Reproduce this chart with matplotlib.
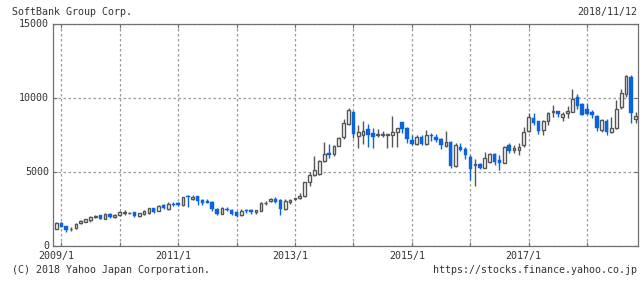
import matplotlib
matplotlib.use("Agg")
import matplotlib.pyplot as plt
import matplotlib.transforms as mtransforms
import pandas as pd

# ---- data (monthly candles, 2008/12 .. 2018/11) ----
months = pd.period_range("2008-12", "2018-11", freq="M")

opens = [
    1190, 1575, 1350, 1160, 1215, 1553, 1665, 1777, 2000, 2093, 1868, 2183,
    1980, 2116, 2250, 2230, 2318, 2048, 2160, 2228, 2566, 2408, 2790, 2498,
    2880, 2904, 2768, 3422, 3220, 3377, 3106, 3040, 2994, 2520, 2206, 2520,
    2453, 2318, 2093, 2453, 2453, 2340, 2408, 2900, 3040, 3220, 3129, 2543,
    2972, 3180, 3242, 3377, 4323, 4818, 4863, 5764, 6305, 6215, 6800, 7408,
    8241, 9074, 7431, 7498, 7926, 7656, 7498, 7520, 7520, 7498, 7701, 8399,
    7993, 7183, 6935, 7386, 6935, 7543, 7408, 7250, 6800, 7048, 5449, 6710,
    6597, 6012, 5470, 5561, 5314, 5674, 6237, 5832, 5652, 6845, 6480, 6530,
    6845, 7814, 8647, 8467, 7881, 8444, 9052, 9142, 8760, 8985, 9075, 10088,
    9638, 9277, 9097, 8805, 7858, 8467, 7746, 7971, 9390, 10269, 11417, 8625,
]
closes = [
    1600, 1327, 1102, 1180, 1507, 1733, 1823, 1958, 2030, 1868, 2183, 2003,
    2138, 2296, 2296, 2250, 2070, 2228, 2363, 2566, 2318, 2723, 2566, 2880,
    2768, 2768, 3309, 3332, 3354, 3084, 2949, 2949, 2498, 2206, 2588, 2430,
    2183, 2070, 2386, 2363, 2340, 2430, 2926, 2950, 3174, 3016, 2498, 3040,
    3107, 3240, 3400, 4323, 4818, 5156, 5764, 6215, 6147, 6777, 7318, 8309,
    9187, 7566, 7701, 7769, 7543, 7363, 7566, 7566, 7540, 7701, 7971, 7948,
    7228, 6935, 7363, 6935, 7498, 7431, 7205, 6867, 7048, 5426, 6822, 6507,
    6147, 5246, 5560, 5291, 5944, 6214, 5719, 5652, 6732, 6440, 6640, 6710,
    7744, 8715, 8354, 7813, 8467, 9007, 9142, 8962, 8940, 9142, 9976, 9480,
    8872, 8940, 8872, 7971, 8512, 7746, 7971, 9255, 10336, 11507, 9030, 8805,
]
highs = [
    1665, 1620, 1395, 1282, 1553, 1800, 1868, 2048, 2140, 2140, 2230, 2228,
    2180, 2386, 2453, 2340, 2340, 2273, 2453, 2611, 2611, 2768, 2836, 2994,
    2994, 2994, 3354, 3466, 3444, 3422, 3174, 3174, 3084, 2566, 2633, 2633,
    2498, 2363, 2498, 2498, 2498, 2476, 2971, 3084, 3242, 3309, 3219, 3197,
    3197, 3287, 3580, 4368, 4998, 6102, 5809, 7048, 6890, 6845, 7386, 8602,
    9322, 9142, 8196, 8466, 8241, 7971, 7926, 7791, 7560, 8782, 8016, 8399,
    8038, 7543, 7498, 7498, 7858, 7678, 7588, 7295, 7791, 7093, 7003, 6980,
    6687, 6169, 5877, 5600, 6372, 6327, 6327, 6192, 6777, 7003, 6822, 7003,
    8082, 9030, 8985, 8467, 8512, 9052, 9525, 9142, 9075, 9480, 10629, 10291,
    9705, 9705, 9210, 8872, 8580, 8580, 8715, 9886, 10606, 11597, 11552, 9097,
]
lows = [
    1147, 1282, 990, 1057, 1170, 1507, 1620, 1643, 1910, 1820, 1823, 1935,
    1935, 2070, 2138, 2160, 2003, 1958, 2115, 2206, 2273, 2363, 2520, 2453,
    2723, 2723, 2723, 2678, 3129, 2814, 2814, 2904, 2408, 2093, 2160, 2363,
    2115, 2003, 2048, 2228, 2160, 2206, 2363, 2814, 2994, 2949, 2135, 2454,
    2837, 3107, 3197, 3332, 4098, 4728, 4818, 5719, 5944, 6125, 6755, 7228,
    8196, 7296, 6620, 6890, 6733, 6665, 7408, 7408, 6665, 6733, 6732, 7678,
    7003, 6845, 6867, 6867, 6867, 7138, 7048, 6597, 6732, 5313, 5381, 6462,
    5921, 4480, 4075, 5250, 5291, 5606, 5494, 5156, 5606, 6282, 6282, 6150,
    6688, 7746, 8197, 7589, 7521, 8174, 8760, 8760, 8490, 8647, 9075, 9300,
    8850, 8850, 8647, 7814, 7724, 7544, 7679, 7926, 9255, 10111, 8354, 8309,
]

y_ticks = [0, 5000, 10000, 15000]
label_years = [2009, 2011, 2013, 2015, 2017]
title_text = "SoftBank Group Corp."
date_text = "2018/11/12"
copyright_text = "(C) 2018 Yahoo Japan Corporation."
url_text = "https://stocks.finance.yahoo.co.jp"

# ---- styling ----
UP_EDGE = "#555555"
DOWN = "#0a64dc"
FRAME = "#707070"
GRID = "#999999"
TXT = "#333333"
FONT = "DejaVu Sans Mono"
FS = 7.2

W, H = 644, 282
fig = plt.figure(figsize=(W / 100, H / 100), dpi=100)
ax = fig.add_axes([53.3 / W, 1 - 246.3 / H, (637.7 - 53.3) / W, (246.3 - 24.3) / H])

x = list(range(len(months)))
for i in x:
    o, h, l, c = opens[i], highs[i], lows[i], closes[i]
    if c < o:
        ax.vlines(i, l, h, color=DOWN, linewidth=1.0, zorder=3)
        ax.bar(i, max(o - c, 40), bottom=c, width=0.7, color=DOWN,
               edgecolor=DOWN, linewidth=0.3, zorder=4)
    else:
        ax.vlines(i, l, h, color=UP_EDGE, linewidth=1.0, zorder=3)
        ax.bar(i, max(c - o, 40), bottom=o, width=0.56, facecolor="white",
               edgecolor=UP_EDGE, linewidth=1.0, zorder=4)

jan_pos = [i for i, m in enumerate(months) if m.month == 1]
ax.set_xlim(-0.64, 119.4)
ax.set_ylim(0, 15000)
ax.set_xticks(jan_pos)
ax.set_xticklabels([f"{months[i].year}/1" if months[i].year in label_years else ""
                    for i in jan_pos])
ax.set_yticks(y_ticks)
ax.set_yticklabels([str(v) for v in y_ticks])

ax.grid(True, color=GRID, linestyle=(0, (2, 2)), linewidth=0.9, zorder=1)
ax.set_axisbelow(True)
for s in ax.spines.values():
    s.set_color(FRAME)
    s.set_linewidth(0.9)

ax.tick_params(axis="x", which="both", direction="in", length=3, width=0.8,
               color=FRAME, top=True, bottom=True, pad=3.5,
               labelsize=FS, labelcolor=TXT)
ax.tick_params(axis="y", which="both", direction="in", length=3, width=0.8,
               color=FRAME, left=True, right=True, pad=3,
               labelsize=FS, labelcolor=TXT)
for lab in ax.get_xticklabels() + ax.get_yticklabels():
    lab.set_family(FONT)
yoff = mtransforms.ScaledTranslation(0, 1.5 / 100, fig.dpi_scale_trans)
for lab in ax.get_yticklabels():
    lab.set_transform(lab.get_transform() + yoff)
xoff = mtransforms.ScaledTranslation(-5 / 100, 0, fig.dpi_scale_trans)
for lab in ax.get_xticklabels():
    lab.set_transform(lab.get_transform() + xoff)

fig.text(12 / W, 1 - 12 / H, title_text, ha="left", va="center",
         fontsize=FS, family=FONT, color=TXT)
fig.text(637 / W, 1 - 12 / H, date_text, ha="right", va="center",
         fontsize=FS, family=FONT, color=TXT)
fig.text(12 / W, 1 - 270 / H, copyright_text, ha="left", va="center",
         fontsize=FS, family=FONT, color=TXT)
fig.text(637 / W, 1 - 270 / H, url_text, ha="right", va="center",
         fontsize=FS, family=FONT, color=TXT)

fig.savefig("out.png", dpi=100, facecolor="white")
